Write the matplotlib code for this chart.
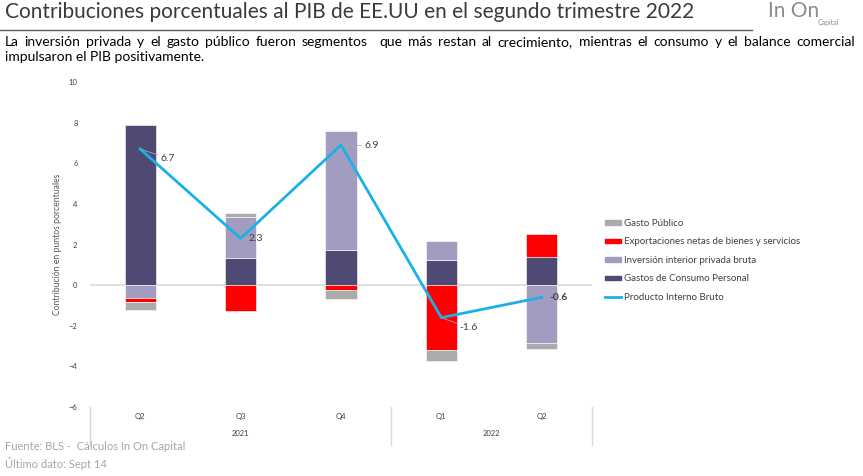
import numpy as np
import matplotlib
matplotlib.use("Agg")
import matplotlib.pyplot as plt
from matplotlib.patches import Patch
from matplotlib.lines import Line2D

plt.rcParams['font.family'] = ['Lato', 'DejaVu Sans']

# --- data ---
quarters = ["Q2", "Q3", "Q4", "Q1", "Q2"]
years = ["2021", "2022"]
consumo = [7.9, 1.35, 1.75, 1.24, 1.38]        # Gastos de Consumo Personal
inversion = [-0.65, 2.0, 5.85, 0.93, -2.83]    # Inversion interior privada bruta
exportaciones = [-0.2, -1.25, -0.22, -3.2, 1.16]  # Exportaciones netas
gasto_publico = [-0.35, 0.2, -0.48, -0.52, -0.32]  # Gasto Publico
pib = [6.7, 2.3, 6.9, -1.6, -0.6]
pib_labels = ["6.7", "2.3", "6.9", "-1.6", "-0.6"]

C_CONS = "#4F4A73"
C_INV = "#A29DC0"
C_NX = "#FF0000"
C_GOV = "#ABABAB"
C_PIB = "#19B1E8"
TXT = "#404040"

fig = plt.figure(figsize=(8.63, 4.76), dpi=100)
ax = fig.add_axes([90 / 863, 1 - 407 / 476, 502 / 863, 325 / 476])

x = np.arange(len(quarters))
pos_base = np.zeros(len(x))
neg_base = np.zeros(len(x))
for vals, col in [(consumo, C_CONS), (inversion, C_INV),
                  (exportaciones, C_NX), (gasto_publico, C_GOV)]:
    v = np.array(vals)
    base = np.where(v >= 0, pos_base, neg_base)
    ax.bar(x, v, 0.31, bottom=base, color=col, edgecolor="white",
           linewidth=0.4, zorder=2)
    pos_base += np.where(v >= 0, v, 0)
    neg_base += np.where(v < 0, v, 0)

ax.axhline(0, color="#D9D9D9", lw=1.2, zorder=1)
ax.plot(x, pib, color=C_PIB, lw=2, zorder=3)

# data labels with leader lines
offsets = [(0.2, -0.45), (0.08, 0.0), (0.23, -0.05), (0.18, -0.5), (0.08, 0.0)]
for i, (lab, (dx, dy)) in enumerate(zip(pib_labels, offsets)):
    bold = "bold" if i == 4 else "normal"
    ax.annotate(lab, xy=(x[i], pib[i]), xytext=(x[i] + dx, pib[i] + dy),
                fontsize=7.5, color=TXT, va="center", ha="left",
                fontweight=bold, zorder=4,
                arrowprops=dict(arrowstyle="-", color="#A6A6A6", lw=0.6,
                                shrinkA=0, shrinkB=1))

ax.set_xlim(-0.5, 4.5)
ax.set_ylim(-6, 10)
ax.set_yticks(np.arange(-6, 11, 2))
ax.tick_params(axis="y", length=0, labelsize=5.5, labelcolor=TXT, pad=9)
ax.set_xticks([])
for s in ax.spines.values():
    s.set_visible(False)
ax.set_ylabel("Contribución en puntos porcentuales", fontsize=6.2,
              color="#595959", labelpad=5)

# category axis below the plot
for i, q in enumerate(quarters):
    ax.text(x[i], -0.028, q, transform=ax.get_xaxis_transform(),
            ha="center", va="center", fontsize=5.5, color=TXT)
ax.text(1, -0.083, years[0], transform=ax.get_xaxis_transform(),
        ha="center", va="center", fontsize=5.5, color=TXT)
ax.text(3.5, -0.083, years[1], transform=ax.get_xaxis_transform(),
        ha="center", va="center", fontsize=5.5, color=TXT)
for xs in [0, 0.6, 1.0]:
    ax.plot([xs, xs], [0, -0.117], transform=ax.transAxes, color="#D9D9D9",
            lw=1, clip_on=False)

# legend
handles = [Patch(color=C_GOV, label="Gasto Público"),
           Patch(color=C_NX, label="Exportaciones netas de bienes y servicios"),
           Patch(color=C_INV, label="Inversión interior privada bruta"),
           Patch(color=C_CONS, label="Gastos de Consumo Personal"),
           Line2D([], [], color=C_PIB, lw=2, label="Producto Interno Bruto")]
leg = fig.legend(handles=handles, loc="upper left",
                 bbox_to_anchor=(600 / 863, 1 - 214 / 476), frameon=False,
                 fontsize=7, handlelength=1.7, handleheight=0.35,
                 handletextpad=0.3, labelspacing=0.98, borderpad=0)
for t in leg.get_texts():
    t.set_color(TXT)

# title, rule, subtitle
fig.text(5 / 863, 1 - 12 / 476, "Contribuciones porcentuales al PIB de EE.UU en el segundo trimestre 2022",
         fontsize=15, color="#3A3A3A", va="center", ha="left")
fig.add_artist(Line2D([0, 752 / 863], [1 - 30 / 476, 1 - 30 / 476],
                      color="#595959", lw=1))

# first subtitle line is justified between x=5 and x=855 px
line1 = "La inversión privada y el gasto público fueron segmentos  que más restan al crecimiento, mientras el consumo y el balance comercial"
words = line1.split(" ")
renderer = fig.canvas.get_renderer()
objs = []
widths = []
for w in words:
    t = fig.text(0, 1 - 46 / 476, w, fontsize=10, color="black",
                 va="baseline", ha="left")
    objs.append(t)
    widths.append(t.get_window_extent(renderer).width if w else 0.0)
gap = (850 - sum(widths)) / (len(words) - 1)
xpos = 5.0
for t, wdt in zip(objs, widths):
    t.set_x(xpos / 863)
    xpos += wdt + gap
fig.text(5 / 863, 1 - 61 / 476, "impulsaron el PIB positivamente.",
         fontsize=10, color="black", va="baseline", ha="left")

# logo
fig.text(768 / 863, 1 - 11 / 476, "In On", fontsize=15, color="#8C8C8C",
         va="center", ha="left")
fig.text(818 / 863, 1 - 22 / 476, "Capital", fontsize=5, color="#8C8C8C",
         va="center", ha="left")

# footer
fig.text(5 / 863, 1 - 447 / 476, "Fuente: BLS -  Cálculos In On Capital",
         fontsize=8, color="#A6A6A6", va="center", ha="left")
fig.text(5 / 863, 1 - 464 / 476, "Último dato: Sept 14",
         fontsize=8, color="#A6A6A6", va="center", ha="left")

fig.savefig("out.png", dpi=100)
